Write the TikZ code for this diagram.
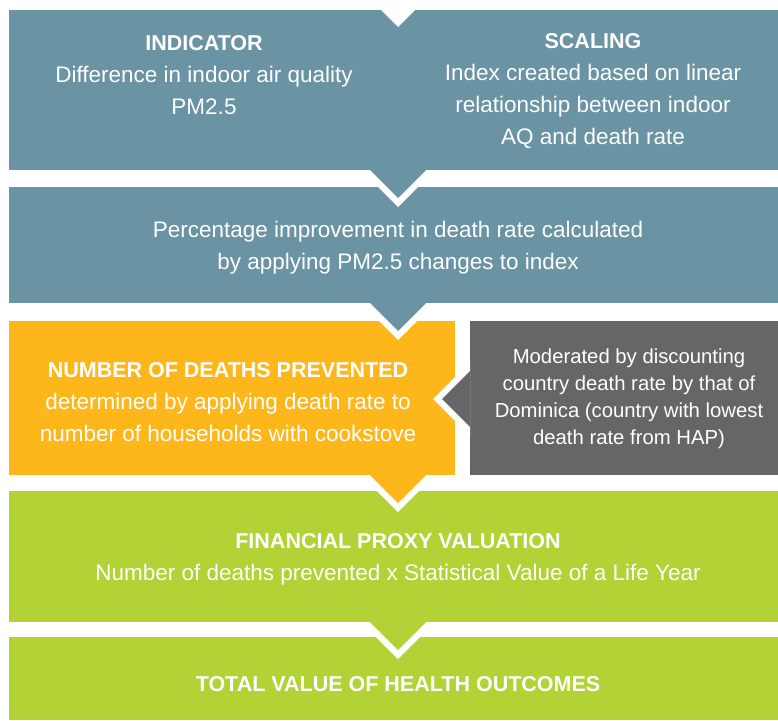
\documentclass[tikz,border=0pt]{standalone}
\usepackage{fontspec}
\setmainfont{Liberation Sans}
\definecolor{steel}{HTML}{6A93A4}
\definecolor{amber}{HTML}{FDB71A}
\definecolor{slate}{HTML}{666666}
\definecolor{lime}{HTML}{B2D235}
\newcommand{\hd}[1]{{\fontsize{21.5}{32}\selectfont\bfseries #1}}
\begin{document}
\begin{tikzpicture}[
		x=1pt,y=-1pt,
		box/.style={rectangle,inner sep=0pt,anchor=north west},
		txt/.style={text=white,align=center,inner sep=0pt,font=\fontsize{22.5}{32}\selectfont},
		note/.style={text=white,align=center,inner sep=0pt,font=\fontsize{20.3}{27}\selectfont}
	]
	\useasboundingbox (0,0) rectangle (778,720);
	\node[box,fill=steel,minimum width=769pt,minimum height=160pt] (indicator) at (9,10) {};
	\node[box,fill=steel,minimum width=769pt,minimum height=116pt] (percentage) at (9,187) {};
	\node[box,fill=amber,minimum width=446pt,minimum height=154pt] (deaths) at (9,321) {};
	\node[box,fill=slate,minimum width=308pt,minimum height=154pt] (moderated) at (470,321) {};
	\node[box,fill=lime,minimum width=769pt,minimum height=131pt] (proxy) at (9,491) {};
	\node[box,fill=lime,minimum width=769pt,minimum height=83pt] (total) at (9,637) {};
	\fill[white] (381,10) -- (398,27) -- (415,10) -- cycle;
	\foreach \y/\c in {170/steel,303/steel,475/amber,622/lime} {
		\fill[white] (361,\y) -- (398,\y+37) -- (435,\y) -- cycle;
		\fill[\c] (370,\y) -- (398,\y+28) -- (426,\y) -- cycle;
	}
	\fill[white] (470,362) -- (433,399) -- (470,436) -- cycle;
	\fill[slate] (470,371) -- (442,399) -- (470,427) -- cycle;
	\node[txt] (indicatortext) at (204,75) {\hd{INDICATOR}\\Difference in indoor air quality\\PM2.5};
	\node[txt] (scalingtext) at (593,91) {\hd{SCALING}\\Index created based on linear\\relationship between indoor\\AQ and death rate};
	\node[txt] (percentagetext) at (398,248) {Percentage improvement in death rate calculated\\by applying PM2.5 changes to index};
	\node[txt] (deathstext) at (228,402) {\hd{NUMBER OF DEATHS PREVENTED}\\determined by applying death rate to\\number of households with cookstove};
	\node[note] (moderatedtext) at (629,399) {Moderated by discounting\\country death rate by that of\\Dominica (country with lowest\\death rate from HAP)};
	\node[txt] (proxytext) at (398,559) {\hd{FINANCIAL PROXY VALUATION}\\Number of deaths prevented x Statistical Value of a Life Year};
	\node[txt] (totaltext) at (398,684) {\hd{TOTAL VALUE OF HEALTH OUTCOMES}};
\end{tikzpicture}
\end{document}
